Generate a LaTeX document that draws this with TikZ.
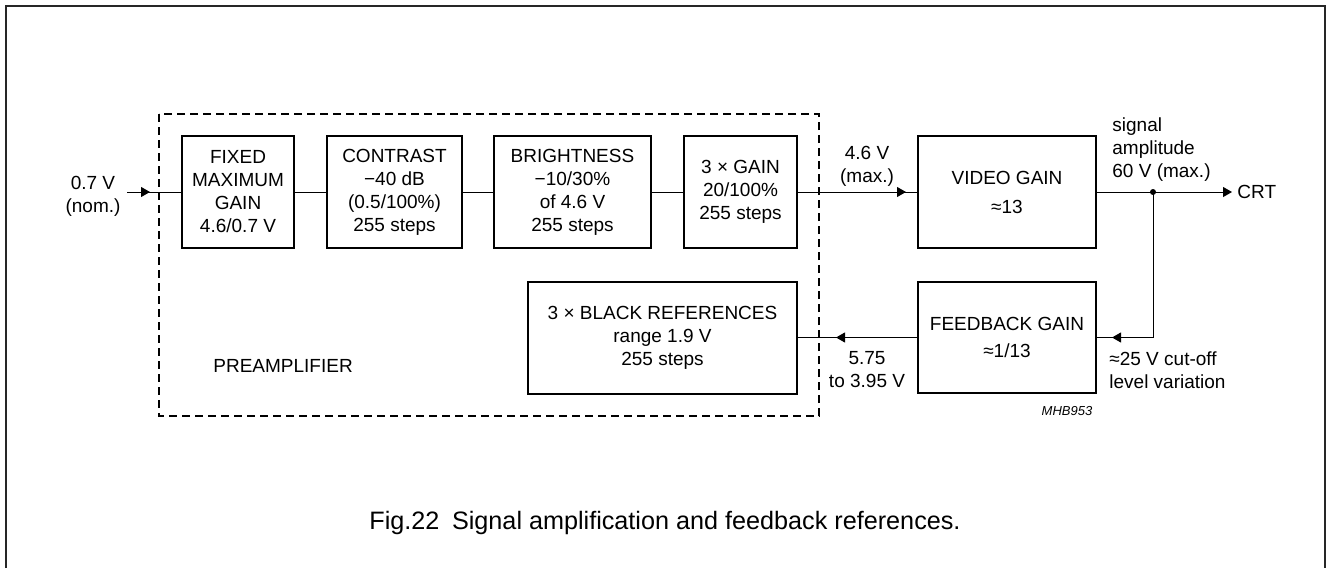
\documentclass[tikz,border=0pt]{standalone}
\usepackage{fontspec}
\setmainfont{Liberation Sans}
\usetikzlibrary{arrows.meta,positioning}
\begin{document}
\begin{tikzpicture}[x=0.5pt,y=-0.5pt,
  blk/.style={draw,line width=1pt,align=center,inner sep=0pt,font=\fontsize{9.5}{11.5}\selectfont},
  lbl/.style={align=center,inner sep=0pt,font=\fontsize{9.5}{11.5}\selectfont},
  wire/.style={line width=0.5pt},
  sig/.style={line width=0.5pt,-{Triangle[length=4.5pt,width=5pt]}},
  pre/.style={line width=1pt,dash pattern=on 4pt off 2.5pt}]
  \useasboundingbox (0,0) rectangle (1327,568);
  \draw [line width=1pt,black!85] (6,568) -- (6,6) -- (1325,6) -- (1325,568);
  \draw [pre] (159,114) rectangle (819,416);
  \node [blk,minimum width=56pt,minimum height=56pt] (fixed) at (238,192) {FIXED\\MAXIMUM\\GAIN\\4.6/0.7 V};
  \node [blk,minimum width=67.5pt,minimum height=56pt] (contrast) at (394.5,192) {CONTRAST\\−40 dB\\(0.5/100\%)\\255 steps};
  \node [blk,minimum width=78.5pt,minimum height=56pt] (bright) at (572.5,192) {BRIGHTNESS\\−10/30\%\\of 4.6 V\\255 steps};
  \node [blk,minimum width=56.5pt,minimum height=56pt] (gain3) at (740.5,192) {3 × GAIN\\20/100\%\\255 steps};
  \node [blk,minimum width=89pt,minimum height=56pt] (video) at (1007,192) {VIDEO GAIN\\[3pt]≈13};
  \node [blk,minimum width=89pt,minimum height=55.5pt] (feedback) at (1007,337.5) {FEEDBACK GAIN\\[2pt]≈1/13};
  \node [blk,minimum width=134.5pt,minimum height=56pt] (blackref) at (662.5,337.5) {3 × BLACK REFERENCES\\range 1.9 V\\255 steps};
  \node [lbl] (vin) at (93,196) {0.7 V\\(nom.)};
  \node [lbl] (vmax) at (867,166) {4.6 V\\(max.)};
  \node [lbl,align=left,anchor=west] (ampl) at (1112,150) {signal\\amplitude\\60 V (max.)};
  \node [lbl,anchor=west] (crt) at (1237,192) {CRT};
  \node [lbl,align=left,anchor=west] (cutoff) at (1109,370) {≈25 V cut-off\\level variation};
  \node [lbl] (vref) at (867,370) {5.75\\to 3.95 V};
  \node [lbl,anchor=west] (preamp) at (213,366) {PREAMPLIFIER};
  \node [font=\fontsize{6.5}{8}\selectfont\itshape,inner sep=0pt] (mhb) at (1067,411) {MHB953};
  \node [font=\fontsize{12.6}{15}\selectfont,inner sep=0pt] (caption) at (665,523) {Fig.22\enspace Signal amplification and feedback references.};
  \coordinate (inS) at (127,192);
  \coordinate (inT) at (150,192);
  \coordinate (split) at (1153,192);
  \draw [wire] (inS) -- (fixed.west);
  \draw [sig] (inS) -- (inT);
  \draw [wire] (fixed) -- (contrast);
  \draw [wire] (contrast) -- (bright);
  \draw [wire] (bright) -- (gain3);
  \draw [sig,shorten >=5.5pt] (gain3) -- (video);
  \draw [wire] (gain3) -- (video);
  \draw [sig,shorten >=2.5pt] (video) -- (crt);
  \fill (split) circle (1.5pt);
  \draw [sig,shorten >=7.5pt] (split) |- (feedback.east);
  \draw [wire] (split) |- (feedback.east);
  \draw [sig,shorten >=19pt] (feedback) -- (blackref);
  \draw [wire] (feedback) -- (blackref);
\end{tikzpicture}
\end{document}
